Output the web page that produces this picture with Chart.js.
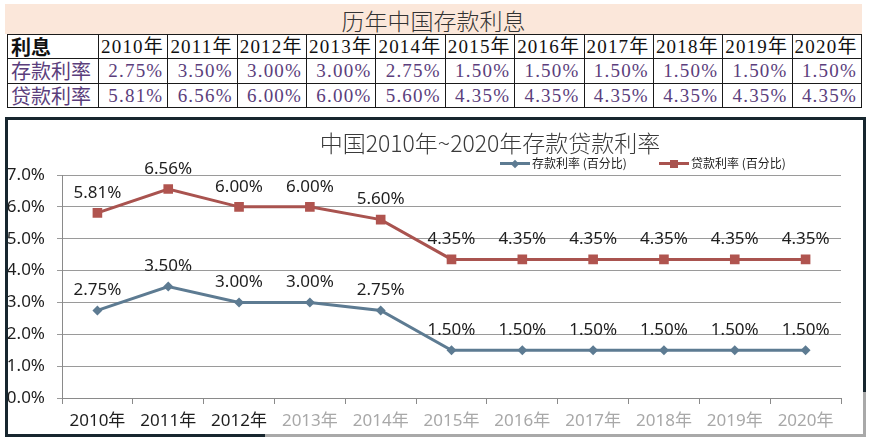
<!DOCTYPE html>
<html><head><meta charset="utf-8">
<script src="https://cdn.jsdelivr.net/npm/chart.js@4.4.1/dist/chart.umd.min.js"></script>
<style>
html,body{margin:0;padding:0;background:#fff;width:870px;height:441px;overflow:hidden;position:relative;}
#band{position:absolute;left:5px;top:4px;width:857px;height:30px;background:#fbe7da;text-align:center;font:300 23px "Noto Sans CJK SC",sans-serif;color:#333;line-height:32px;}
#tbl{position:absolute;left:7px;top:34px;width:855px;border-collapse:collapse;table-layout:fixed;}
#tbl td{border:1.5px solid #1a1a1a;height:23.5px;padding:0 4px 0 2px;font:19px "Liberation Serif","Noto Sans CJK SC",serif;line-height:23px;letter-spacing:1.2px;text-align:right;white-space:nowrap;color:#5b3e7c;overflow:hidden;}
#tbl tr.hd td{color:#111;height:22.5px;}
#tbl td.lab{text-align:left;font:20px "Noto Sans CJK SC",sans-serif;line-height:23px;letter-spacing:0;padding-left:3px;}
#tbl tr.hd td.lab{font-weight:bold;}
#frame{position:absolute;left:5px;top:117px;width:861px;height:320px;box-sizing:border-box;border:3px solid #17262e;}
#wrap{position:relative;width:855px;height:314px;}
#ctitle{position:absolute;left:290px;width:400px;top:127px;text-align:center;font:300 23px "Noto Sans CJK SC",sans-serif;color:#3a3a3a;line-height:30px;white-space:nowrap;}
.lg{position:absolute;top:155px;font:12px "Noto Sans CJK SC",sans-serif;color:#1e1e1e;line-height:16px;white-space:nowrap;}
.lg .ln{display:inline-block;position:relative;width:30px;height:16px;vertical-align:top;margin-right:2px;}
.lg .ln::before{content:"";position:absolute;left:0;right:0;top:7px;height:3px;background:var(--c);}
.lg .mk{position:absolute;left:50%;top:8.5px;width:8px;height:8px;margin:-4px 0 0 -4px;background:var(--c);}
.lg .mk.dia{transform:rotate(45deg);width:6px;height:6px;margin:-3px 0 0 -3px;}
.gfix{position:absolute;background:#a9a9a9;}
</style></head>
<body>
<div id="band">历年中国存款利息</div>
<table id="tbl"></table>
<div id="frame"><div id="wrap"><canvas id="c"></canvas></div></div>
<div id="ctitle">中国2010年~2020年存款贷款利率</div>
<div id="legend"></div>
<div class="gfix" style="left:265px;top:434px;width:601px;height:3px;"></div>
<div class="gfix" style="left:863px;top:392px;width:3px;height:45px;"></div>
<script>
// ---- data ----
const years = ['2010年','2011年','2012年','2013年','2014年','2015年','2016年','2017年','2018年','2019年','2020年'];
const depositRates = [2.75, 3.50, 3.00, 3.00, 2.75, 1.50, 1.50, 1.50, 1.50, 1.50, 1.50];
const loanRates = [5.81, 6.56, 6.00, 6.00, 5.60, 4.35, 4.35, 4.35, 4.35, 4.35, 4.35];
const tableRowNames = ['存款利率', '贷款利率'];
const tableHeadName = '利息';
const seriesNames = ['存款利率 (百分比)', '贷款利率 (百分比)'];
const yTickMin = 0, yTickMax = 7, yTickStep = 1;

// ---- table ----
const tbl = document.getElementById('tbl');
function row(cls, label, cells){
  const tr = document.createElement('tr'); if(cls) tr.className = cls;
  const l = document.createElement('td'); l.className='lab'; l.textContent = label; l.style.width='83px'; tr.appendChild(l);
  cells.forEach(v=>{const td=document.createElement('td'); td.textContent=v; tr.appendChild(td);});
  tbl.appendChild(tr);
}
row('hd', tableHeadName, years);
row('', tableRowNames[0], depositRates.map(v=>v.toFixed(2)+'%'));
row('', tableRowNames[1], loanRates.map(v=>v.toFixed(2)+'%'));

// ---- legend ----
const depColor = '#5d7b92', loanColor = '#a9534f';
const lg = document.getElementById('legend');
[[seriesNames[0], depColor, 'dia', 500],[seriesNames[1], loanColor, 'sq', 659]].forEach(([name,c,mk,x])=>{
  const d=document.createElement('div'); d.className='lg'; d.style.left=x+'px';
  d.innerHTML='<span class="ln" style="--c:'+c+'"><i class="mk '+mk+'"></i></span>';
  d.appendChild(document.createTextNode(name)); lg.appendChild(d);
});

// ---- chart ----
Chart.defaults.font.family = '"Noto Sans","Noto Sans CJK SC",sans-serif';
const valueLabels = {
  id:'valueLabels',
  afterDatasetsDraw(chart){
    const ctx = chart.ctx; ctx.save();
    ctx.font = '17px "Noto Sans","Noto Sans CJK SC",sans-serif';
    ctx.fillStyle = '#1e1e1e'; ctx.textAlign='center'; ctx.textBaseline='middle';
    chart.data.datasets.forEach((ds,i)=>{
      chart.getDatasetMeta(i).data.forEach((pt,j)=>{ ctx.fillText(ds.data[j].toFixed(2)+'%', pt.x, pt.y-20); });
    });
    ctx.restore();
  }
};
new Chart(document.getElementById('c'), {
  type:'line',
  data:{labels:years, datasets:[
    {label:seriesNames[0], data:depositRates, borderColor:depColor, backgroundColor:depColor, borderWidth:3, pointStyle:'rectRot', pointRadius:5, pointBorderWidth:0, tension:0},
    {label:seriesNames[1], data:loanRates, borderColor:loanColor, backgroundColor:'#b0544f', borderWidth:3, pointStyle:'rect', pointRadius:6.8, pointBorderWidth:0, tension:0}
  ]},
  options:{
    responsive:true, maintainAspectRatio:false, animation:false, devicePixelRatio:1,
    layout:{padding:{top:55, right:22, left:0, bottom:0}},
    plugins:{legend:{display:false}, title:{display:false}, tooltip:{enabled:false}},
    scales:{
      x:{offset:true,
        grid:{offset:true, drawOnChartArea:false, drawTicks:true, tickLength:6, color:'#8a8a8a'},
        border:{color:'#8a8a8a'},
        ticks:{padding:7, maxRotation:0, autoSkip:false, font:{size:17}, color:(c)=> c.index<3 ? '#1e1e1e' : '#a8a8a8'},
        afterFit(s){ s.height = 36; }},
      y:{min:yTickMin, max:yTickMax,
        ticks:{stepSize:yTickStep, padding:12, font:{size:17}, color:'#1e1e1e', callback:v=>Number(v).toFixed(1)+'%'},
        grid:{color:'#9a9a9a', tickLength:5},
        border:{color:'#8a8a8a'},
        afterFit(s){ s.width = 54; }}
    }
  },
  plugins:[valueLabels]
});
</script>
</body></html>
